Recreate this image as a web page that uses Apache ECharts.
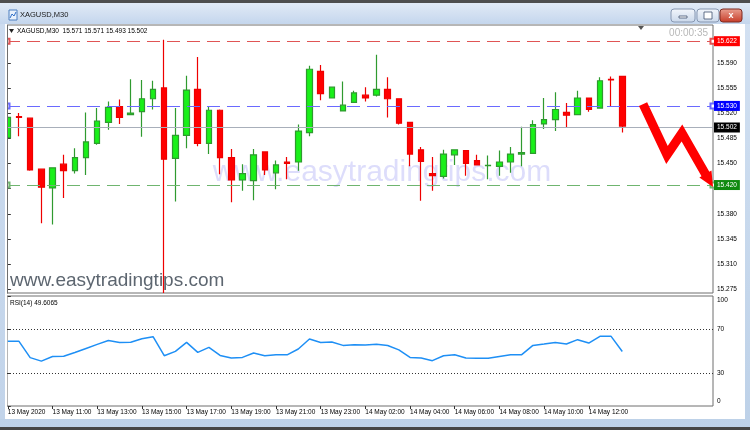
<!DOCTYPE html>
<html><head><meta charset="utf-8">
<script src="https://cdn.jsdelivr.net/npm/echarts@6/dist/echarts.min.js"></script>
<style>html,body{margin:0;padding:0;background:#c9d9ee}#c{width:750px;height:430px}</style>
</head><body><div id="c"></div>
<script>
// ---------- data ----------
const symbolName = 'XAGUSD,M30';
const open  = [15.486,15.515,15.513,15.442,15.416,15.449,15.440,15.458,15.478,15.507,
               15.529,15.518,15.522,15.540,15.555,15.457,15.489,15.553,15.478,15.524,
               15.458,15.427,15.426,15.466,15.437,15.452,15.452,15.493,15.578,15.541,
               15.523,15.535,15.545,15.545,15.553,15.540,15.507,15.469,15.436,15.432,
               15.462,15.468,15.454,15.447,15.446,15.452,15.463,15.464,15.505,15.511,
               15.521,15.518,15.541,15.527,15.567,15.571];
const high  = [15.516,15.520,15.514,15.442,15.444,15.462,15.471,15.521,15.527,15.536,
               15.539,15.567,15.566,15.565,15.622,15.527,15.572,15.598,15.529,15.525,
               15.470,15.449,15.470,15.466,15.454,15.459,15.504,15.586,15.587,15.556,
               15.564,15.551,15.556,15.601,15.570,15.540,15.507,15.473,15.459,15.469,
               15.469,15.468,15.462,15.461,15.468,15.473,15.501,15.510,15.541,15.549,
               15.534,15.551,15.541,15.570,15.571,15.571];
const low   = [15.484,15.488,15.440,15.367,15.365,15.402,15.436,15.434,15.476,15.497,
               15.505,15.517,15.487,15.525,15.270,15.397,15.471,15.474,15.463,15.435,
               15.396,15.412,15.399,15.434,15.414,15.428,15.440,15.488,15.538,15.541,
               15.523,15.535,15.536,15.543,15.514,15.504,15.446,15.398,15.412,15.429,
               15.448,15.433,15.448,15.428,15.433,15.437,15.446,15.464,15.498,15.495,
               15.500,15.518,15.522,15.527,15.529,15.493];
const close = [15.514,15.514,15.441,15.417,15.444,15.440,15.458,15.480,15.509,15.528,
               15.514,15.520,15.540,15.553,15.456,15.489,15.552,15.478,15.524,15.458,
               15.427,15.436,15.462,15.441,15.448,15.450,15.495,15.581,15.547,15.556,
               15.531,15.548,15.541,15.553,15.540,15.506,15.463,15.453,15.433,15.463,
               15.469,15.450,15.448,15.4472,15.452,15.463,15.465,15.504,15.511,15.525,
               15.517,15.541,15.525,15.565,15.566,15.502];
const rsi   = [58.8,58.8,44.0,40.8,45.0,45.2,48.6,52.3,56.0,59.6,
               57.8,57.9,61.2,63.0,45.7,49.7,57.8,48.8,53.3,46.0,
               43.6,44.2,48.2,45.7,46.6,46.5,51.8,60.9,57.8,58.2,
               55.1,55.7,55.5,56.2,55.0,51.0,44.2,43.6,41.2,45.7,
               46.6,43.6,43.3,43.4,45.1,46.6,46.7,55.1,56.3,57.8,
               56.3,60.3,57.2,63.3,63.3,49.6065];
const tickIdx    = [0,4,8,12,16,20,24,28,32,36,40,44,48,52];
const tickLabels = ['13 May 2020','13 May 11:00','13 May 13:00','13 May 15:00','13 May 17:00',
                    '13 May 19:00','13 May 21:00','13 May 23:00','14 May 02:00','14 May 04:00',
                    '14 May 06:00','14 May 08:00','14 May 10:00','14 May 12:00'];
const priceTicks = [15.275,15.310,15.345,15.380,15.415,15.450,15.485,15.520,15.555,15.590];
const rsiTicks   = [0,30,70,100];
const rsiLevels  = [70,30];
const dashLevels = [
  {v:15.622, line:'#e05555', box:'#ff0000'},
  {v:15.530, line:'#6a6aff', box:'#0000ff'},
  {v:15.420, line:'#6fb56f', box:'#108a10'}
];
const bidLevel = {v:15.502, line:'#a8afba', box:'#000000'};
// drawn arrow annotation, in (bar index, price)
const arrowPath = [[56.86,15.5326],[59.0,15.4618],[60.34,15.4923],[62.49,15.4340]];
const arrowTip  = [63.12,15.4173];

// ---------- chart ----------
const FONT = '"Liberation Sans", Arial, sans-serif';
const chart = echarts.init(document.getElementById('c'), null, {width:750, height:430});
const xMin = -0.074, xMax = 63.12;

const candleData = open.map((o,i)=>[i, o, close[i], low[i], high[i]]);
const lvlLabel = (l)=>({show:true, position:'end', distance:1, formatter:()=>l.v.toFixed(3),
  backgroundColor:l.box, color:'#fff', padding:[2,3,1,3], fontSize:6.5, fontFamily:FONT});

const option = {
  animation:false,
  backgroundColor:'transparent',
  grid:[
    {left:7, right:37, top:25, height:268, show:true, borderColor:'#6e6e6e', borderWidth:1, backgroundColor:'transparent'},
    {left:7, right:37, top:296, height:110, show:true, borderColor:'#6e6e6e', borderWidth:1, backgroundColor:'transparent'}
  ],
  xAxis:[
    {type:'value', gridIndex:0, min:xMin, max:xMax, show:false},
    {type:'value', gridIndex:1, min:xMin, max:xMax,
     axisLine:{show:false}, splitLine:{show:false},
     axisTick:{show:true, customValues:tickIdx, length:3, lineStyle:{color:'#333'}},
     axisLabel:{customValues:tickIdx, formatter:v=>tickLabels[tickIdx.indexOf(Math.round(v))]||'',
       align:'left', margin:3, fontSize:6.5, color:'#000', fontFamily:FONT}}
  ],
  yAxis:[
    {type:'value', gridIndex:0, position:'right', min:15.2699, max:15.6425, scale:true,
     axisLine:{show:false}, splitLine:{show:false},
     axisTick:{show:true, customValues:priceTicks, length:3, lineStyle:{color:'#333'}},
     axisLabel:{customValues:priceTicks, formatter:v=>v.toFixed(3), margin:4, fontSize:6.5, color:'#000', fontFamily:FONT}},
    {type:'value', gridIndex:1, position:'right', min:0, max:100,
     axisLine:{show:false}, splitLine:{show:false},
     axisTick:{show:true, customValues:rsiTicks, length:3, lineStyle:{color:'#333'}},
     axisLabel:{customValues:rsiTicks, margin:4, fontSize:6.5, color:'#000', fontFamily:FONT,
       formatter:v=> v===100 ? '{t|100}' : (v===0 ? '{b|0}' : String(v)),
       rich:{t:{padding:[9,0,0,0], fontSize:6.5, fontFamily:FONT}, b:{padding:[0,0,9,0], fontSize:6.5, fontFamily:FONT}}}}
  ],
  series:[
    {type:'candlestick', xAxisIndex:0, yAxisIndex:0, barWidth:6, clip:true,
     data:candleData,
     itemStyle:{color:'#19f019', color0:'#ff0000', borderColor:'#2f9a2f', borderColor0:'#ee0000', borderColorDoji:'#2f9a2f', borderWidth:1.2},
     markLine:{silent:true, animation:false, symbol:['emptyRect','emptyRect'], symbolSize:5,
       data: dashLevels.map(l=>({
         yAxis:l.v,
         itemStyle:{color:l.line},
         lineStyle:{color:l.line, width:1, type:[13,7]},
         label:lvlLabel(l)
       }))
     }
    },
    {type:'line', xAxisIndex:0, yAxisIndex:0, data:[], symbol:'none',
     markLine:{silent:true, animation:false, symbol:['none','none'],
       data:[{yAxis:bidLevel.v, lineStyle:{color:bidLevel.line, width:1, type:'solid'}, label:lvlLabel(bidLevel)}]}
    },
    {type:'line', xAxisIndex:1, yAxisIndex:1, data:rsi.map((v,i)=>[i,v]),
     symbol:'none', lineStyle:{color:'#1e8ff5', width:1.5},
     markLine:{silent:true, animation:false, symbol:['none','none'], label:{show:false},
       lineStyle:{type:[1,2], color:'#333', width:1},
       data: rsiLevels.map(v=>({yAxis:v}))}
    }
  ]
};
chart.setOption(option);

// ---------- decorations ----------
const grad = (a,b)=>new echarts.graphic.LinearGradient(0,0,0,1,[{offset:0,color:a},{offset:1,color:b}]);
const arrowPx = arrowPath.map(p=>chart.convertToPixel({xAxisIndex:0, yAxisIndex:0}, p));
const tipPx = chart.convertToPixel({xAxisIndex:0, yAxisIndex:0}, arrowTip);
const last = arrowPx[arrowPx.length-1];
let dx = tipPx[0]-last[0], dy = tipPx[1]-last[1];
const dl = Math.hypot(dx,dy); dx/=dl; dy/=dl;
const hw = 7, hl = 15;
const baseC = [tipPx[0]-dx*hl, tipPx[1]-dy*hl];
const head = [[tipPx[0],tipPx[1]],[baseC[0]+(-dy)*hw, baseC[1]+dx*hw],[baseC[0]-(-dy)*hw, baseC[1]-dx*hw]];
const shaft = arrowPx.slice(0,-1).concat([[baseC[0]+dx*2, baseC[1]+dy*2]]);

const N = open.length-1;
const headerText = symbolName + '  ' + [open[N],high[N],low[N],close[N]].map(v=>v.toFixed(3)).join(' ');

chart.setOption({graphic:[
  {type:'rect', z:-30, shape:{x:0,y:0,width:750,height:430}, style:{fill:grad('#d3e1f2','#bdd1e8')}},
  {type:'rect', z:-29, shape:{x:0,y:0,width:750,height:3}, style:{fill:'#4e4e4e'}},
  {type:'rect', z:-29, shape:{x:0,y:3,width:750,height:21}, style:{fill:grad('#e1eaf6','#c4d6ed')}},
  {type:'rect', z:-28, shape:{x:5,y:24,width:740,height:395}, style:{fill:'#ffffff'}},
  {type:'rect', z:-29, shape:{x:0,y:427,width:750,height:3}, style:{fill:'#454545'}},
  // left clipping edge over the first bar
  {type:'rect', z:60, shape:{x:0,y:24,width:5,height:395}, style:{fill:grad('#cddcef','#c2d4ea')}},
  {type:'rect', z:60, shape:{x:5,y:24,width:2,height:395}, style:{fill:'#ffffff'}},
  {type:'line', z:61, shape:{x1:7.5,y1:25,x2:7.5,y2:293.5}, style:{stroke:'#6e6e6e', lineWidth:1}},
  // window icon + title
  {type:'rect', z:10, shape:{x:9,y:10,width:8,height:10}, style:{fill:'#e9f1fb', stroke:'#4d7fc0', lineWidth:1}},
  {type:'polyline', z:11, shape:{points:[[10,18],[12,14],[14,16],[16,12]]}, style:{stroke:'#2f6fc9', lineWidth:1, fill:null}},
  {type:'text', z:10, style:{x:20, y:15, text:symbolName, font:'7.5px '+FONT, fill:'#1b1b1b', verticalAlign:'middle'}},
  // window buttons
  {type:'rect', z:10, shape:{x:671,y:9,width:24,height:13,r:3}, style:{fill:grad('#f4f7fc','#c9d7ea'), stroke:'#8797b1', lineWidth:1}},
  {type:'rect', z:11, shape:{x:679,y:16,width:8,height:2}, style:{fill:'#ffffff', stroke:'#40506e', lineWidth:0.8}},
  {type:'rect', z:10, shape:{x:697,y:9,width:22,height:13,r:3}, style:{fill:grad('#f4f7fc','#c9d7ea'), stroke:'#8797b1', lineWidth:1}},
  {type:'rect', z:11, shape:{x:704,y:12,width:8,height:7}, style:{fill:'#ffffff', stroke:'#40506e', lineWidth:0.8}},
  {type:'rect', z:10, shape:{x:720,y:9,width:22,height:13,r:3}, style:{fill:grad('#eaa192','#c63a26'), stroke:'#7e2a20', lineWidth:1}},
  {type:'text', z:11, style:{x:731, y:15.5, text:'x', font:'bold 9px '+FONT, fill:'#ffffff', align:'center', verticalAlign:'middle'}},
  // chart header
  {type:'polygon', z:10, shape:{points:[[9,29],[14,29],[11.5,33]]}, style:{fill:'#222'}},
  {type:'text', z:10, style:{x:17, y:31.5, text:headerText, font:'6.5px '+FONT, fill:'#000', verticalAlign:'middle'}},
  {type:'text', z:10, style:{x:708, y:33, text:'00:00:35', font:'10px '+FONT, fill:'#b8b8b8', align:'right', verticalAlign:'middle'}},
  {type:'polygon', z:10, shape:{points:[[638,26],[644,26],[641,30]]}, style:{fill:'#555'}},
  {type:'text', z:10, style:{x:10, y:303, text:'RSI(14) '+rsi[N].toFixed(4), font:'6.5px '+FONT, fill:'#000', verticalAlign:'middle'}},
  // watermarks
  {type:'text', z:-5, style:{x:382, y:173, text:'www.easytradingtips.com', font:'30px '+FONT, fill:'rgba(170,170,245,0.4)', align:'center', verticalAlign:'middle'}},
  {type:'text', z:50, style:{x:10, y:281, text:'www.easytradingtips.com', font:'19px '+FONT, fill:'#5d6670', verticalAlign:'middle'}},
  // arrow
  {type:'polyline', z:40, shape:{points:shaft}, style:{stroke:'#ff0000', lineWidth:9, lineJoin:'miter', miterLimit:6, fill:null}},
  {type:'polygon', z:41, shape:{points:head}, style:{fill:'#ff0000'}}
]});
</script>
</body></html>
